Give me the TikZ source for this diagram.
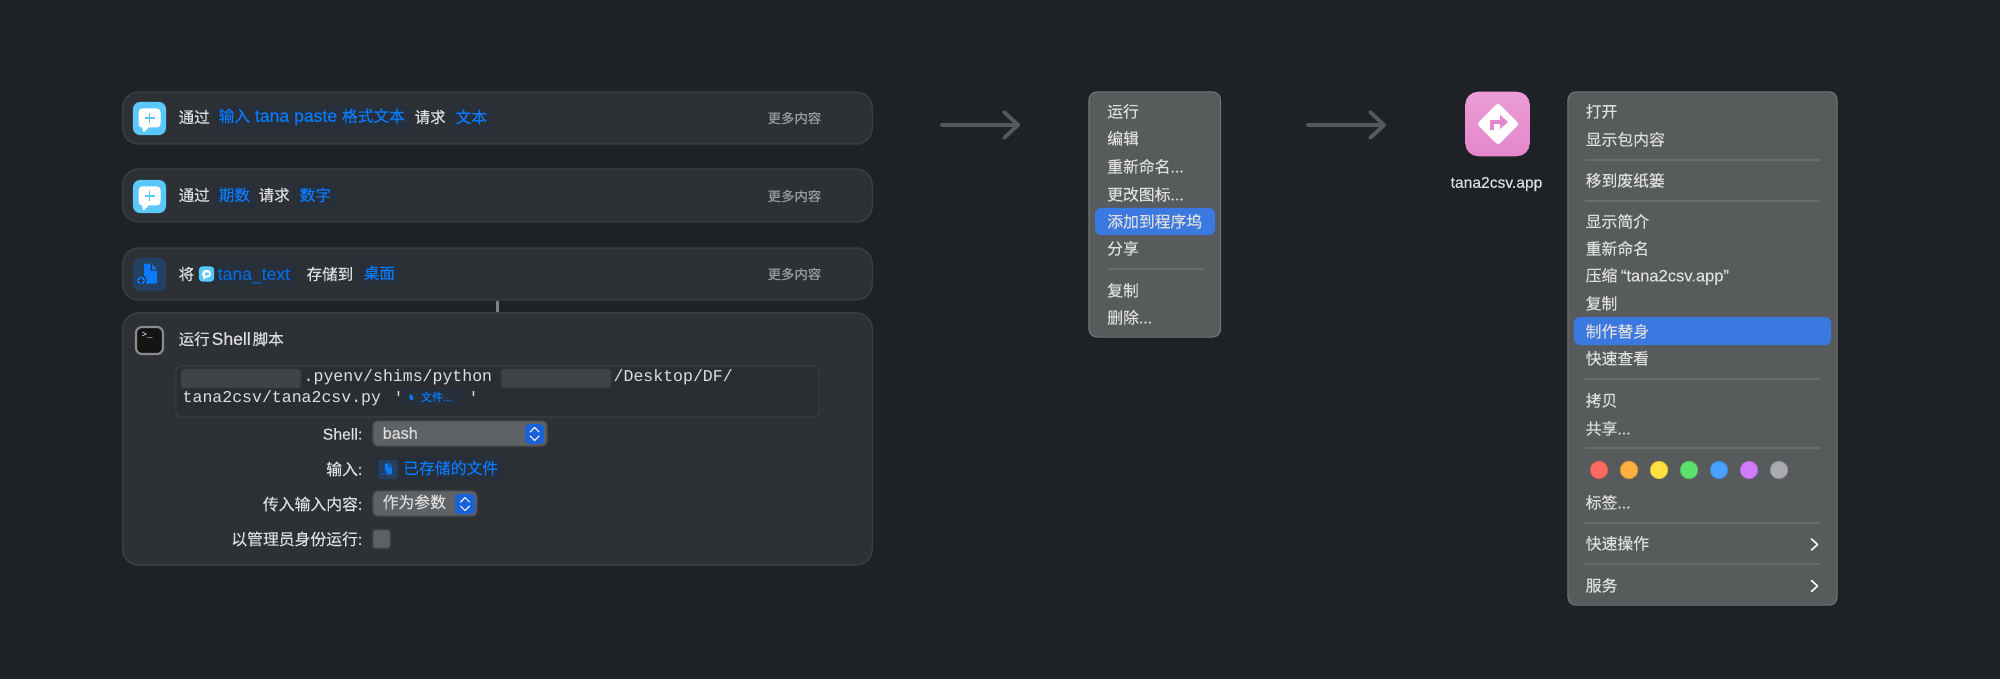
\documentclass[tikz,border=0pt]{standalone}
\usepackage{fontspec}
\setmainfont{Noto Sans CJK SC}[FakeBold=0.12]
\setmonofont{Liberation Mono}
\newfontfamily\lat{Liberation Sans}[FakeBold=0.08]
\newfontfamily\cjkb{Noto Sans CJK SC}[FakeBold=0.35]
\newfontfamily\latb{Liberation Sans}[FakeBold=0.35]
\usetikzlibrary{arrows.meta}

\newcommand{\threedots}{...}

\definecolor{bgdark}{HTML}{1E2226}
\definecolor{cardfill}{HTML}{2D3135}
\definecolor{cardline}{HTML}{3B3F42}
\definecolor{pillfill}{HTML}{262F3A}
\definecolor{linkblue}{HTML}{0A7AFF}
\definecolor{menufill}{HTML}{585B5C}
\definecolor{menuline}{HTML}{727475}
\definecolor{menusep}{HTML}{696C6D}
\definecolor{menutext}{HTML}{DEDEDE}
\definecolor{hilite}{HTML}{3B78E0}
\definecolor{arrowgray}{HTML}{55595C}
\definecolor{cyanicon}{HTML}{5AC8FA}
\definecolor{selectfill}{HTML}{5F6264}
\definecolor{stepblue}{HTML}{1A62D8}
\definecolor{apptop}{HTML}{EB9DD4}
\definecolor{appbot}{HTML}{E486CC}
\definecolor{maskfill}{HTML}{3D4346}

\tikzset{
  card/.style={draw=cardline, line width=0.4pt, fill=cardfill, rounded corners=0.16cm, minimum width=7.49cm, inner sep=0pt},
  pill/.style={fill=pillfill, rounded corners=0.06cm, inner sep=0pt, minimum height=0.24cm},
  txt/.style={anchor=west, xshift=-0.01cm, yshift=0.01cm, inner sep=0pt, text=menutext, font=\cjkb\fontsize{4.4}{5}\selectfont},
  bluetxt/.style={anchor=west, xshift=-0.01cm, yshift=0.01cm, inner sep=0pt, text=linkblue, font=\cjkb\fontsize{4.45}{5}\selectfont},
  lbl/.style={anchor=east, inner sep=0pt, text=menutext, font=\fontsize{4.5}{5}\selectfont},
  more/.style={anchor=west, inner sep=0pt, text=black!40!white, font=\cjkb\fontsize{3.8}{5}\selectfont},
  code/.style={anchor=west, inner sep=0pt, text=menutext, font=\ttfamily\fontsize{4.7}{5}\selectfont},
  mask/.style={draw=black!15!maskfill, dashed, line width=0.2pt, fill=maskfill, rounded corners=0.03cm, inner sep=0pt, minimum height=0.19cm},
  menu/.style={draw=menuline, line width=0.3pt, fill=menufill, rounded corners=0.08cm, inner sep=0pt},
  hl/.style={fill=hilite, rounded corners=0.06cm, inner sep=0pt},
  item/.style={anchor=west, yshift=0.006cm, inner sep=0pt, text=menutext, font=\fontsize{4.5}{5}\selectfont},
  sep/.style={menusep, line width=0.35pt},
  bigarrow/.style={arrowgray, line width=1.1pt, line cap=round, -{Straight Barb[length=0.14cm, width=0.26cm, round]}},
  selectbox/.style={draw=black!20!selectfill, line width=0.35pt, fill=selectfill, rounded corners=0.05cm, inner sep=0pt},
  stepper/.style={fill=stepblue, rounded corners=0.04cm, inner sep=0pt},
  chev/.style={white, line width=0.3pt, line cap=round, line join=round},
  dot/.style={circle, inner sep=0pt, minimum size=0.175cm, draw=#1!85!black, line width=0.2pt, fill=#1},
  msgicon/.pic={
    \fill[white, rounded corners=0.035cm] (-11,-10) rectangle (11,9);
    \fill[white] (-8,8) -- (-6,14) -- (0,8) -- cycle;
    \draw[cyanicon, line width=0.45pt] (-5,-0.5) -- (5,-0.5) (0,-5.5) -- (0,4.5);
  },
  fileicon/.pic={
    \fill[linkblue, rounded corners=0.01cm] (-5.5,-11) -- (2,-11) -- (7.5,-5) -- (7.5,9) -- (-5.5,9) -- cycle;
    \fill[pillfill] (1,-11) -- (1,-4) -- (7.5,-4) -- (7.5,-5) -- (2.5,-5) -- (2.5,-11) -- cycle;
    \draw[pillfill, line width=0.3pt, fill=linkblue] (-8.5,6) circle (5);
    \draw[pillfill, line width=0.3pt] (-11.5,6) -- (-5.5,6) (-8.5,3) -- (-8.5,9);
  },
}

\begin{document}
\begin{tikzpicture}[x=0.01cm, y=-0.01cm]
\useasboundingbox (0,0) rectangle (2000,679);
\fill[bgdark] (0,0) rectangle (2000,679);

\node (card-1) at (497.5,118) [card, minimum height=0.52cm]{};
\node (card-2) at (497.5,195.5) [card, minimum height=0.53cm]{};
\node (card-3) at (497.5,274) [card, minimum height=0.52cm]{};
\node (card-4) at (497.5,439) [card, minimum height=2.52cm]{};

\draw [black!50!white, line width=0.7pt] (card-3.south) -- (card-4.north);

% first two rows
\node (icon-1) at (149.5,118.5) [fill=cyanicon, rounded corners=0.07cm, minimum size=0.33cm, inner sep=0pt]{};
\pic at (icon-1) {msgicon};
\node (t1-a) at (179,118) [txt]{通过};
\node (p1-a) at (313,118) [pill, minimum width=2cm]{};
\node (t1-b) at (219,118) [bluetxt]{输入\hspace{0.05cm}{\latb\fontsize{5}{5}\selectfont tana paste}\hspace{0.05cm}格式文本};
\node (t1-c) at (415,118) [txt]{请求};
\node (p1-b) at (471,118) [pill, minimum width=0.44cm]{};
\node (t1-d) at (456,118) [bluetxt]{文本};
\node (m-1) at (767,118) [more]{更多内容};

\node (icon-2) at (149.5,196.5) [fill=cyanicon, rounded corners=0.07cm, minimum size=0.33cm, inner sep=0pt]{};
\pic at (icon-2) {msgicon};
\node (t2-a) at (179,196) [txt]{通过};
\node (p2-a) at (235,196) [pill, minimum width=0.44cm]{};
\node (t2-b) at (219,196) [bluetxt]{期数};
\node (t2-c) at (259,196) [txt]{请求};
\node (p2-b) at (315,196) [pill, minimum width=0.44cm]{};
\node (t2-d) at (300,196) [bluetxt]{数字};
\node (m-2) at (767,196) [more]{更多内容};

% save row
\node (icon-3) at (149.5,274.5) [fill=linkblue!22!cardfill, rounded corners=0.07cm, minimum size=0.33cm, inner sep=0pt]{};
\pic at (icon-3) {fileicon};
\node (t3-a) at (179,275) [txt]{将};
\node (p3-a) at (248,274) [pill, minimum width=1cm]{};
\node (icon-3b) at (206.5,274) [fill=cyanicon, rounded corners=0.03cm, minimum size=0.15cm, inner sep=0pt]{};
\pic [scale=0.4] at (icon-3b) {msgicon};
\node (t3-b) at (218,277) [bluetxt, text=linkblue!85!black, font=\latb\fontsize{5}{5}\selectfont]{tana\_text};
\node (t3-c) at (307,275) [txt]{存储到};
\node (p3-b) at (379,274) [pill, minimum width=0.44cm]{};
\node (t3-d) at (364,274) [bluetxt]{桌面};
\node (m-3) at (767,274) [more]{更多内容};

% shell card
\node (icon-4) at (149.5,340.5) [draw=black!45!white, line width=0.6pt, fill=black!92!white, rounded corners=0.06cm, minimum size=0.27cm, inner sep=0pt]{};
\node (prompt) at (147,335) [inner sep=0pt, text=white, font=\ttfamily\fontsize{2.6}{3}\selectfont]{>\_};
\node (t4-a) at (179,340) [txt]{运行\hspace{0.02cm}{\latb\fontsize{5}{5}\selectfont Shell}\hspace{0.02cm}脚本};

\node (codebox) at (497.5,391.5) [draw=cardline, line width=0.3pt, fill=black!6!cardfill, rounded corners=0.05cm, minimum width=6.43cm, minimum height=0.51cm, inner sep=0pt]{};
\node (mask-1) at (241,378.5) [mask, minimum width=1.2cm]{};
\node (mask-2) at (556,378.5) [mask, minimum width=1.1cm]{};
\node (c-1) at (303,377) [code]{.pyenv/shims/python};
\node (c-2) at (613,377) [code]{/Desktop/DF/};
\node (c-3) at (182,398) [code]{tana2csv/tana2csv.py};
\node (c-4) at (393,398) [code]{'};
\node (p4-a) at (434,397.5) [pill, minimum width=0.64cm, minimum height=0.17cm]{};
\pic [scale=0.3] at (411,397.5) {fileicon};
\node (c-5) at (421,398) [bluetxt, font=\fontsize{3.2}{4}\selectfont]{文件...};
\node (c-6) at (468,398) [code]{'};

\node (l-1) at (363,434) [lbl]{{\lat Shell}:};
\node (sel-1) at (460,433.5) [selectbox, minimum width=1.74cm, minimum height=0.25cm]{};
\node (sel-1t) at (383,434) [txt, font=\lat\fontsize{4.6}{5}\selectfont]{bash};
\node (st-1) at (534.5,434) [stepper, minimum width=0.19cm, minimum height=0.2cm]{};
\draw [chev] (530,432) -- (534.5,427.5) -- (539,432) (530,436) -- (534.5,440.5) -- (539,436);

\node (l-2) at (363,469) [lbl]{输入:};
\node (p5-a) at (438.5,469) [pill, minimum width=1.31cm]{};
\node (icon-5) at (388,469.5) [fill=linkblue!22!cardfill, rounded corners=0.03cm, minimum size=0.19cm, inner sep=0pt]{};
\pic [scale=0.55] at (icon-5) {fileicon};
\node (t5-a) at (403.5,469) [bluetxt, font=\fontsize{4.5}{5}\selectfont]{已存储的文件};

\node (l-3) at (363,504) [lbl]{传入输入内容:};
\node (sel-2) at (425,503.5) [selectbox, minimum width=1.04cm, minimum height=0.25cm]{};
\node (sel-2t) at (383,503) [txt, font=\fontsize{4.5}{5}\selectfont]{作为参数};
\node (st-2) at (465,504) [stepper, minimum width=0.2cm, minimum height=0.2cm]{};
\draw [chev] (460.5,502) -- (465,497.5) -- (469.5,502) (460.5,506) -- (465,510.5) -- (469.5,506);

\node (l-4) at (363,539) [lbl]{以管理员身份运行:};
\node (chk) at (381.5,539) [selectbox, rounded corners=0.025cm, minimum width=0.17cm, minimum height=0.18cm]{};

% arrows
\coordinate (a1-from) at (942,125);
\coordinate (a1-to) at (1020,125);
\coordinate (a2-from) at (1308,125);
\coordinate (a2-to) at (1386,125);
\draw [bigarrow] (a1-from) -- (a1-to);
\draw [bigarrow] (a2-from) -- (a2-to);

% first menu
\node (menu-1) at (1154.75,214.5) [menu, minimum width=1.315cm, minimum height=2.45cm]{};
\node (hl-1) at (1155,221.5) [hl, minimum width=1.2cm, minimum height=0.27cm]{};
\foreach \i/\y/\lab in {1/112/运行, 2/139/编辑, 3/167/重新命名\threedots, 4/195/更改图标\threedots, 5/222/添加到程序坞, 6/249/分享, 7/291/复制, 8/318/删除\threedots}
  \node (a-\i) at (1106.5,\y) [item]{\lab};
\coordinate (s-l) at (1106.5,269);
\coordinate (s-r) at (1204,269);
\draw [sep] (s-l) -- (s-r);

% app icon
\node (app) at (1497.5,124) [top color=apptop, bottom color=appbot, rounded corners=0.13cm, minimum size=0.645cm, inner sep=0pt]{};
\node (sign) at (1498,124) [fill=white, rotate=45, rounded corners=0.03cm, minimum size=0.3cm, inner sep=0pt]{};
\draw [appbot, line width=1.2pt] (1492,130) -- (1492,122) -- (1501,122);
\fill [appbot] (1500,115) -- (1508,122) -- (1500,129) -- cycle;
\node (app-name) at (1496.5,184) [inner sep=0pt, text=menutext, font=\lat\fontsize{4.44}{5}\selectfont]{tana2csv.app};

% second menu
\node (menu-2) at (1702.5,348.5) [menu, minimum width=2.69cm, minimum height=5.13cm]{};
\node (hl-2) at (1702.5,331) [hl, minimum width=2.57cm, minimum height=0.28cm]{};
\foreach \i/\y/\lab in {1/112/打开, 2/140/显示包内容, 3/181/移到废纸篓, 4/222/显示简介, 5/249/重新命名, 7/304/复制, 8/332/制作替身, 9/359/快速查看, 10/401/拷贝, 11/429/共享\threedots, 12/503/标签\threedots, 13/544/快速操作, 14/586/服务}
  \node (b-\i) at (1585,\y) [item]{\lab};
\node (b-6) at (1585,277) [item]{压缩 {\lat\fontsize{4.7}{5}\selectfont “tana2csv.app”}};
\foreach \y in {160,201,379,448,523,564}
  \draw [sep] (1585,\y) -- (1820,\y);
\foreach \c/\x in {FF6B63/1599, FFB040/1629, FFE040/1659, 5EE070/1689, 4AA0FF/1719, D07CFF/1749, ABABAF/1779}{
  \definecolor{tagcolor}{HTML}{\c}
  \node (dot-\x) at (\x,470) [dot=tagcolor]{};
}
\draw [chev, line width=0.45pt] (1811.5,539) -- (1817.5,544.5) -- (1811.5,550);
\draw [chev, line width=0.45pt] (1811.5,580.5) -- (1817.5,586) -- (1811.5,591.5);

\end{tikzpicture}
\end{document}
